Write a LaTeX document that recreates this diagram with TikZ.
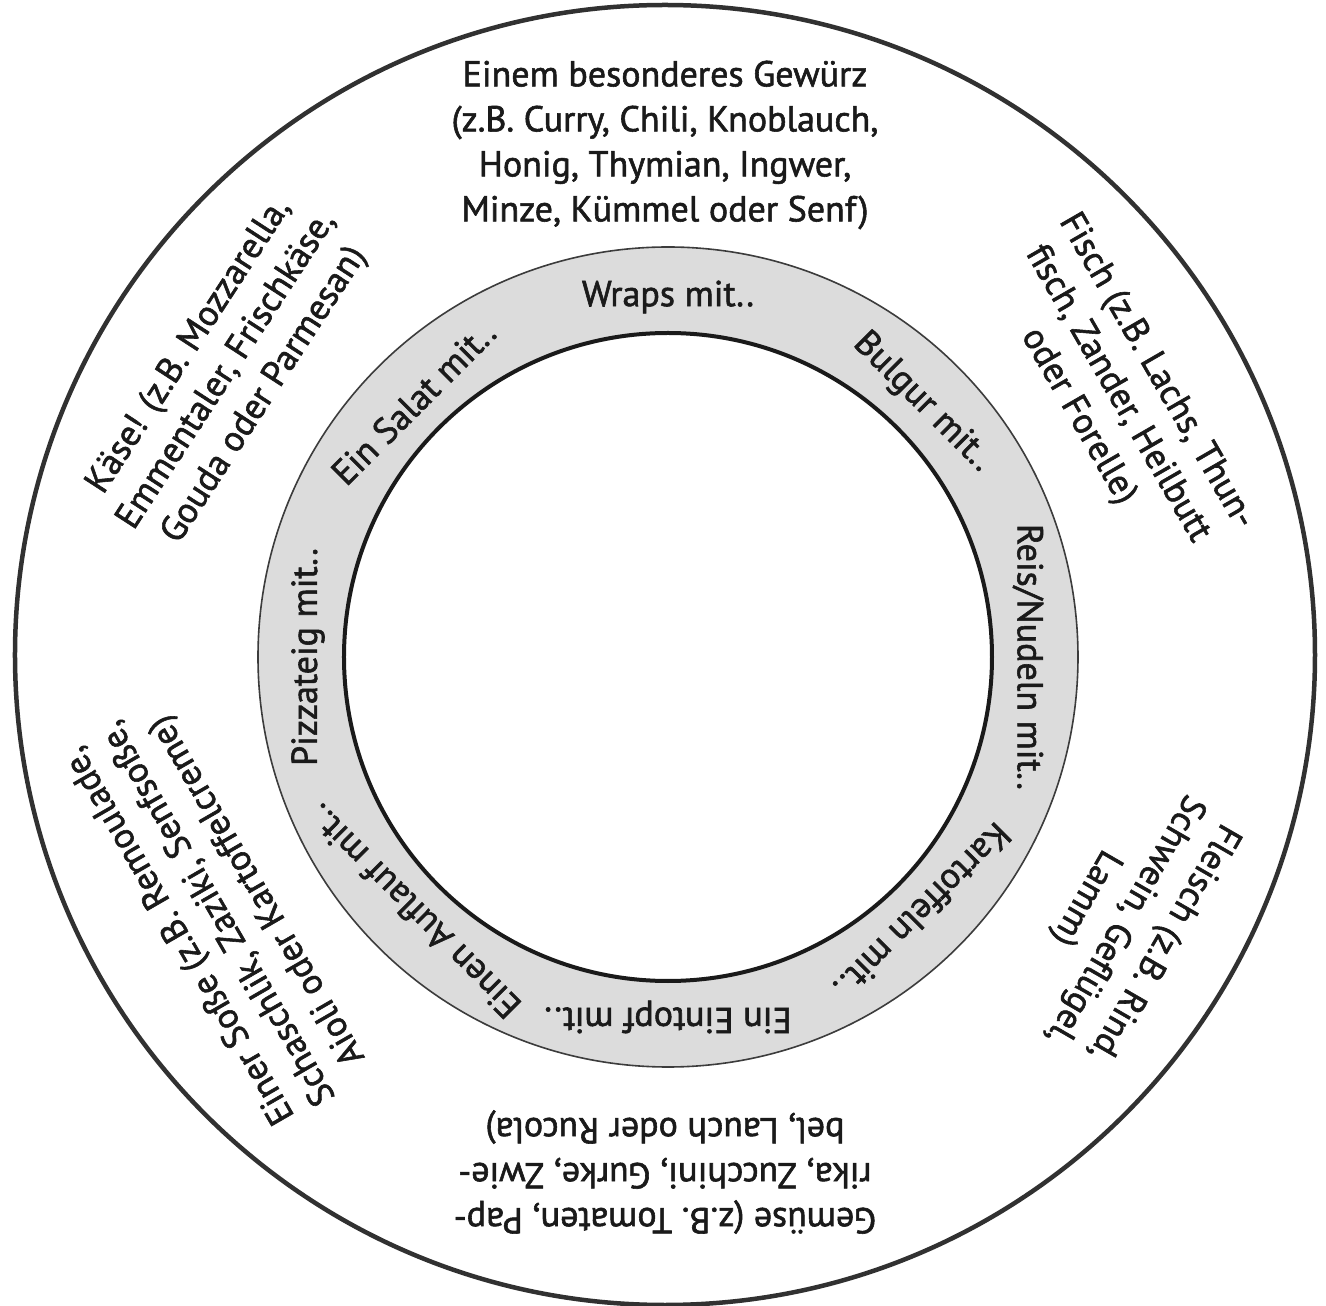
\documentclass[tikz,border=0pt]{standalone}
\usepackage{fontspec}
\setmainfont{PT Sans}
\newfontfamily\medfont{PT Sans}[RawFeature={embolden=1.6}]
\definecolor{ringgray}{HTML}{DCDCDC}
\definecolor{ink}{HTML}{1A1A1A}
\begin{document}
\begin{tikzpicture}[x=1pt,y=1pt,
  txt/.style={font=\fontsize{36}{45}\selectfont\medfont, align=center, text=ink, inner sep=0pt},
  rtxt/.style={font=\fontsize{36}{45}\selectfont\medfont, text=ink, inner sep=0pt}]
\useasboundingbox (-665,-651) rectangle (661,655);
\fill[white] (-665,-651) rectangle (661,655);
% outer circle
\draw[ink!90, line width=4.5pt] (0,0) circle (650pt);
% ring
\coordinate (rc) at (3,-2);
\fill[ringgray, even odd rule] (rc) circle (410pt) (rc) circle (324pt);
\draw[ink!85, line width=1.6pt] (rc) circle (410pt);
\draw[ink, line width=4pt] (rc) circle (324pt);
% ring texts
\node[rtxt, rotate=0]    (wraps)  at ([shift={(rc)}]90:360)   {Wraps mit..};
\node[rtxt, rotate=-45]  (bulgur) at ([shift={(rc)}]45:360)   {Bulgur mit..};
\node[rtxt, rotate=-90]  (reis)   at ([shift={(rc)}]0:360)    {Reis/Nudeln mit..};
\node[rtxt, rotate=-135] (kart)   at ([shift={(rc)}]-45:360)  {Kartoffeln mit..};
\node[rtxt, rotate=180]  (eint)   at ([shift={(rc)}]-90:360)  {Ein Eintopf mit..};
\node[rtxt, rotate=135]  (aufl)   at ([shift={(rc)}]-135:360) {Einen Auflauf mit..};
\node[rtxt, rotate=90]   (pizza)  at ([shift={(rc)}]180:360)  {Pizzateig mit..};
\node[rtxt, rotate=45]   (salat)  at ([shift={(rc)}]135:360)  {Ein Salat mit..};
% outer texts
\node[txt, rotate=0]    (gewuerz) at (90:510)  {Einem besonderes Gewürz\\(z.B. Curry, Chili, Knoblauch,\\Honig, Thymian, Ingwer,\\Minze, Kümmel oder Senf)};
\node[txt, rotate=-60]  (fisch)   at (30:522)  {Fisch (z.B. Lachs, Thun-\\fisch, Zander, Heilbutt\\oder Forelle)};
\node[txt, rotate=-120] (fleisch) at (-30:530) {Fleisch (z.B. Rind,\\Schwein, Geflügel,\\Lamm)};
\node[txt, rotate=180]  (gemuese) at (-90:517) {Gemüse (z.B. Tomaten, Pap-\\rika, Zucchini, Gurke, Zwie-\\bel, Lauch oder Rucola)};
\node[txt, rotate=120]  (sosse)   at (-150:515) {Einer Soße (z.B. Remoulade,\\Schaschlik, Zaziki, Senfsoße,\\Aioli oder Kartoffelcreme)};
\node[txt, rotate=57]   (kaese)   at (147:522) {Käse! (z.B. Mozzarella,\\Emmentaler, Frischkäse,\\Gouda oder Parmesan)};
\end{tikzpicture}
\end{document}
